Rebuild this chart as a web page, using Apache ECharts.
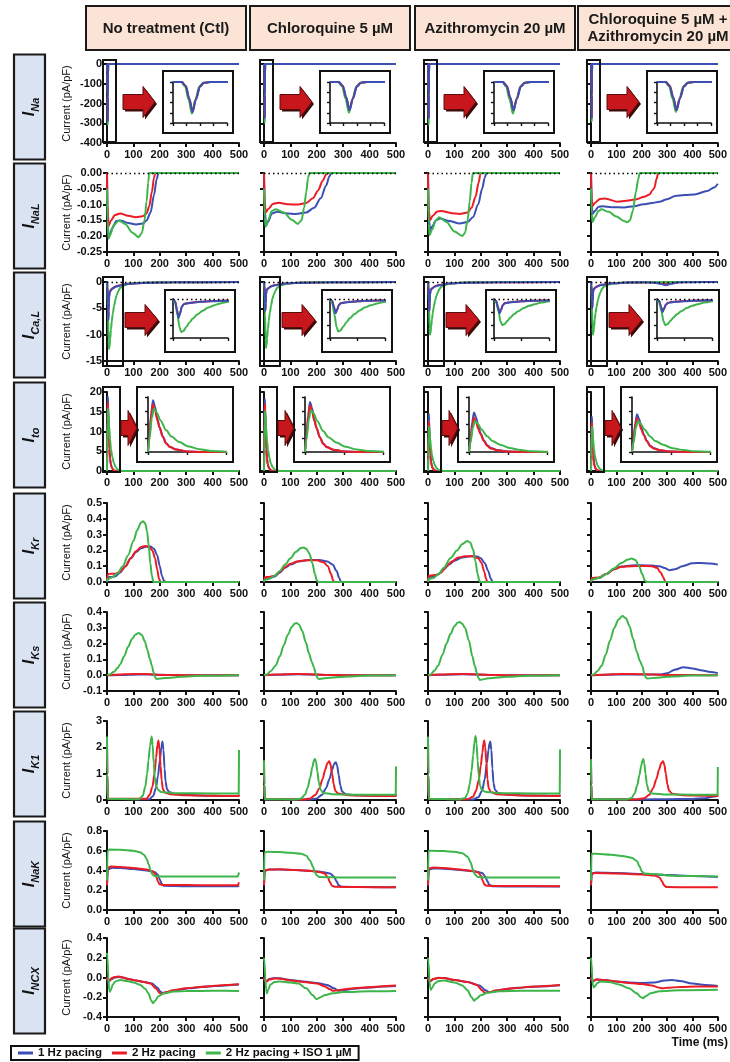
<!DOCTYPE html>
<html>
<head>
<meta charset="utf-8">
<title>Ionic currents under drug treatment</title>
<script src="https://cdn.jsdelivr.net/npm/echarts@6/dist/echarts.min.js"></script>
<style>
  html, body { margin: 0; padding: 0; background: #fff; }
  #chart { width: 730px; height: 1062px; }
</style>
</head>
<body>
<div id="chart"></div>
<script>
// ---------------------------------------------------------------------------
// Conditions (columns), pacing protocols (series) and currents (rows)
// ---------------------------------------------------------------------------
const CONDITIONS = ['No treatment (Ctl)', 'Chloroquine 5 µM', 'Azithromycin 20 µM', 'Chloroquine 5 µM +\nAzithromycin 20 µM'];
const PACING = ['1 Hz pacing', '2 Hz pacing', '2 Hz pacing + ISO 1 µM'];
const CURRENT_SUB = ['Na', 'NaL', 'Ca,L', 'to', 'Kr', 'Ks', 'K1', 'NaK', 'NCX'];
const Y_MIN  = [-400, -0.25, -15, 0, 0, -0.1, 0, 0, -0.4];
const Y_MAX  = [0, 0, 0, 20, 0.5, 0.4, 3, 0.8, 0.4];
const Y_STEP = [100, 0.05, 5, 5, 0.1, 0.1, 1, 0.2, 0.2];
const Y_DEC  = [0, 2, 0, 0, 1, 1, 0, 1, 1];
const X_TICKS = [0, 100, 200, 300, 400, 500];

// Traces: [condition][pacing] -> [time (ms), current (pA/pF)]
const iNa = [
  [
    [[0,0],[1.3,0],[1.9,-40],[2.4,-160],[2.9,-293],[3.4,-170],[4,-45],[4.6,-8],[5.5,0],[500,0]],
    [[0,0],[1.3,0],[1.9,-40],[2.4,-158],[2.9,-288],[3.4,-168],[4,-44],[4.6,-8],[5.5,0],[500,0]],
    [[0,0],[1.2,0],[1.8,-45],[2.3,-170],[2.8,-308],[3.3,-175],[3.9,-45],[4.5,-8],[5.5,0],[500,0]]
  ],
  [
    [[0,0],[1.3,0],[1.9,-38],[2.4,-150],[2.9,-276],[3.4,-160],[4,-42],[4.6,-7],[5.5,0],[500,0]],
    [[0,0],[1.3,0],[1.9,-37],[2.4,-148],[2.9,-272],[3.4,-158],[4,-41],[4.6,-7],[5.5,0],[500,0]],
    [[0,0],[1.2,0],[1.8,-43],[2.3,-165],[2.8,-300],[3.3,-170],[3.9,-44],[4.5,-8],[5.5,0],[500,0]]
  ],
  [
    [[0,0],[1.3,0],[1.9,-38],[2.4,-150],[2.9,-276],[3.4,-160],[4,-42],[4.6,-7],[5.5,0],[500,0]],
    [[0,0],[1.3,0],[1.9,-37],[2.4,-148],[2.9,-272],[3.4,-158],[4,-41],[4.6,-7],[5.5,0],[500,0]],
    [[0,0],[1.2,0],[1.8,-45],[2.3,-170],[2.8,-308],[3.3,-175],[3.9,-45],[4.5,-8],[5.5,0],[500,0]]
  ],
  [
    [[0,0],[1.3,0],[1.9,-38],[2.4,-150],[2.9,-276],[3.4,-160],[4,-42],[4.6,-7],[5.5,0],[500,0]],
    [[0,0],[1.3,0],[1.9,-37],[2.4,-148],[2.9,-272],[3.4,-158],[4,-41],[4.6,-7],[5.5,0],[500,0]],
    [[0,0],[1.2,0],[1.8,-43],[2.3,-162],[2.8,-293],[3.3,-168],[3.9,-43],[4.5,-8],[5.5,0],[500,0]]
  ]
];

const iNaL = [
  [
    [[0,0],[2,-0.12],[5,-0.19],[10,-0.197],[20,-0.175],[35,-0.152],[50,-0.15],[80,-0.158],[110,-0.163],[135,-0.16],[150,-0.15],[165,-0.125],[178,-0.07],[188,-0.02],[195,0],[500,0]],
    [[0,0],[2,-0.1],[6,-0.168],[15,-0.15],[30,-0.133],[50,-0.128],[80,-0.135],[110,-0.14],[135,-0.137],[150,-0.128],[160,-0.105],[170,-0.06],[178,-0.015],[183,0],[500,0]],
    [[0,-0.05],[2,-0.15],[6,-0.208],[12,-0.195],[25,-0.165],[45,-0.15],[70,-0.162],[95,-0.188],[120,-0.203],[132,-0.19],[142,-0.15],[150,-0.09],[156,-0.03],[160,0],[500,0]]
  ],
  [
    [[0,0],[3,-0.12],[8,-0.165],[15,-0.155],[30,-0.128],[50,-0.123],[90,-0.128],[120,-0.13],[160,-0.125],[190,-0.11],[215,-0.08],[235,-0.04],[248,-0.01],[255,0],[500,0]],
    [[0,0],[3,-0.09],[6,-0.125],[15,-0.115],[35,-0.097],[55,-0.094],[90,-0.099],[130,-0.1],[160,-0.095],[185,-0.08],[205,-0.055],[222,-0.025],[235,-0.005],[242,0],[500,0]],
    [[0,-0.05],[3,-0.14],[6,-0.17],[15,-0.15],[30,-0.12],[45,-0.115],[75,-0.125],[105,-0.148],[128,-0.161],[142,-0.15],[152,-0.11],[160,-0.06],[167,-0.015],[172,0],[500,0]]
  ],
  [
    [[0,0],[3,-0.14],[8,-0.181],[15,-0.17],[30,-0.15],[45,-0.144],[80,-0.152],[120,-0.16],[150,-0.155],[170,-0.14],[190,-0.1],[205,-0.05],[215,-0.015],[221,0],[500,0]],
    [[0,0],[3,-0.12],[8,-0.149],[18,-0.135],[35,-0.122],[50,-0.12],[90,-0.127],[120,-0.13],[150,-0.125],[165,-0.11],[180,-0.075],[192,-0.03],[198,-0.005],[201,0],[500,0]],
    [[0,-0.05],[3,-0.16],[6,-0.197],[15,-0.18],[30,-0.15],[42,-0.14],[70,-0.155],[100,-0.185],[130,-0.199],[140,-0.19],[150,-0.15],[158,-0.09],[165,-0.03],[170,0],[500,0]]
  ],
  [
    [[0,0],[3,-0.1],[6,-0.13],[15,-0.12],[30,-0.107],[45,-0.105],[80,-0.108],[130,-0.109],[170,-0.105],[206,-0.099],[240,-0.095],[270,-0.091],[300,-0.083],[332,-0.073],[370,-0.07],[408,-0.068],[458,-0.057],[485,-0.046],[500,-0.034]],
    [[0,0],[3,-0.08],[6,-0.105],[15,-0.095],[35,-0.082],[55,-0.081],[105,-0.091],[140,-0.088],[180,-0.083],[210,-0.075],[231,-0.068],[242,-0.055],[250,-0.047],[258,-0.02],[265,0],[500,0]],
    [[0,-0.05],[3,-0.13],[6,-0.155],[15,-0.14],[30,-0.12],[40,-0.115],[70,-0.123],[100,-0.138],[130,-0.152],[143,-0.156],[153,-0.15],[165,-0.12],[177,-0.06],[186,-0.02],[192,0],[500,0]]
  ]
];

const iCaL = [
  [
    [[0,0],[2,-1],[3.5,-4],[5,-7.3],[6.5,-5.5],[8,-3],[10,-2],[13,-1.7],[18,-1.4],[25,-1.1],[35,-0.85],[50,-0.65],[80,-0.35],[150,-0.15],[250,-0.05],[500,0]],
    [[0,0],[2,-1],[3.5,-3.9],[5,-7],[6.5,-5.3],[8,-2.9],[10,-1.9],[13,-1.6],[18,-1.3],[25,-1.05],[35,-0.8],[50,-0.6],[80,-0.33],[150,-0.14],[250,-0.05],[500,0]],
    [[0,0],[2,-1.5],[4,-6],[6,-11],[7.5,-12.7],[9.5,-12.3],[12,-10.8],[15,-9],[18,-7.5],[22,-6],[27,-4.5],[32,-3.3],[37,-2.5],[43,-1.7],[50,-1.1],[65,-0.6],[90,-0.3],[130,-0.12],[200,-0.04],[500,0]]
  ],
  [
    [[0,0],[2,-0.8],[3.5,-3],[5,-5.5],[6.5,-4.2],[8,-2.4],[10,-1.6],[13,-1.4],[18,-1.15],[25,-0.9],[35,-0.7],[50,-0.55],[80,-0.3],[150,-0.12],[250,-0.04],[500,0]],
    [[0,0],[2,-0.8],[3.5,-2.9],[5,-5.3],[6.5,-4],[8,-2.3],[10,-1.5],[13,-1.3],[18,-1.1],[25,-0.85],[35,-0.65],[50,-0.5],[80,-0.28],[150,-0.11],[250,-0.04],[500,0]],
    [[0,0],[2,-1.5],[4,-6],[6,-10.8],[7.5,-12.5],[9.5,-12.1],[12,-10.6],[15,-8.9],[18,-7.4],[22,-5.9],[27,-4.4],[32,-3.2],[37,-2.4],[43,-1.7],[50,-1.1],[65,-0.6],[90,-0.3],[130,-0.12],[200,-0.04],[500,0]]
  ],
  [
    [[0,0],[2,-0.8],[3.5,-3],[5,-5.5],[6.5,-4.2],[8,-2.4],[10,-1.6],[13,-1.4],[18,-1.15],[25,-0.9],[35,-0.7],[50,-0.55],[80,-0.3],[150,-0.12],[250,-0.04],[500,0]],
    [[0,0],[2,-0.8],[3.5,-2.9],[5,-5.3],[6.5,-4],[8,-2.3],[10,-1.5],[13,-1.3],[18,-1.1],[25,-0.85],[35,-0.65],[50,-0.5],[80,-0.28],[150,-0.11],[250,-0.04],[500,0]],
    [[0,0],[2,-1.2],[4,-4.7],[6,-8.7],[7.5,-10],[9.5,-9.7],[12,-8.5],[15,-7.1],[18,-5.9],[22,-4.7],[27,-3.5],[32,-2.6],[37,-2],[43,-1.35],[50,-0.9],[65,-0.5],[90,-0.25],[130,-0.1],[200,-0.03],[500,0]]
  ],
  [
    [[0,0],[2,-0.75],[3.5,-2.8],[5,-5],[6.5,-3.8],[8,-2.2],[10,-1.5],[13,-1.3],[18,-1.05],[25,-0.85],[35,-0.65],[50,-0.5],[80,-0.28],[150,-0.1],[200,-0.06],[250,-0.12],[275,-0.35],[295,-0.6],[315,-0.35],[340,-0.1],[400,-0.03],[500,0]],
    [[0,0],[2,-0.75],[3.5,-2.7],[5,-4.8],[6.5,-3.6],[8,-2.1],[10,-1.4],[13,-1.2],[18,-1],[25,-0.8],[35,-0.6],[50,-0.48],[80,-0.26],[150,-0.1],[230,-0.05],[260,-0.15],[285,-0.3],[305,-0.15],[330,-0.04],[400,0],[500,0]],
    [[0,0],[2,-1.2],[4,-4.7],[6,-8.7],[7.5,-10],[9.5,-9.7],[12,-8.5],[15,-7.1],[18,-5.9],[22,-4.7],[27,-3.5],[32,-2.6],[37,-2],[43,-1.35],[50,-0.9],[65,-0.5],[90,-0.25],[130,-0.1],[200,-0.03],[500,0]]
  ]
];

const iTo = [
  [
    [[0,0],[1,6],[2,14],[3.2,18.8],[4.5,16.5],[6,12],[7.5,8.8],[9.5,5.6],[11.7,3.2],[14,1.9],[18,0.9],[25,0.2],[35,0],[500,0]],
    [[0,0],[1,5.5],[2,13],[3.2,17.4],[4.5,15.2],[6,11.5],[7.4,9],[9.5,5.5],[11.7,3],[14,1.8],[18,0.9],[25,0.2],[35,0],[500,0]],
    [[0,0],[1,5],[2.5,12.5],[3.8,15.8],[5.5,14.5],[8,11.5],[11.7,7.9],[15,5.6],[20,3.6],[26,2],[33,1],[40,0.4],[50,0.1],[60,0],[500,0]]
  ],
  [
    [[0,0],[1,5.8],[2,13.5],[3.2,18.2],[4.5,16],[6,11.6],[7.5,8.5],[9.5,5.4],[11.7,3.1],[14,1.8],[18,0.85],[25,0.2],[35,0],[500,0]],
    [[0,0],[1,5.4],[2,12.7],[3.2,17],[4.5,14.9],[6,11.2],[7.4,8.8],[9.5,5.4],[11.7,2.9],[14,1.75],[18,0.85],[25,0.2],[35,0],[500,0]],
    [[0,0],[1,4.8],[2.5,12],[3.8,15.2],[5.5,14],[8,11.1],[11.7,7.6],[15,5.4],[20,3.5],[26,1.9],[33,0.95],[40,0.4],[50,0.1],[60,0],[500,0]]
  ],
  [
    [[0,0],[1,4.6],[2,10.7],[3.2,14.4],[4.5,12.6],[6,9.2],[7.5,6.7],[9.5,4.3],[11.7,2.5],[14,1.5],[18,0.7],[25,0.15],[35,0],[500,0]],
    [[0,0],[1,4],[2,9.3],[3.2,12.5],[4.5,10.9],[6,8.3],[7.4,6.5],[9.5,4],[11.7,2.2],[14,1.3],[18,0.65],[25,0.15],[35,0],[500,0]],
    [[0,0],[1,3.6],[2.5,8.9],[3.8,11.3],[5.5,10.4],[8,8.2],[11.7,5.7],[15,4],[20,2.6],[26,1.45],[33,0.7],[40,0.3],[50,0.07],[60,0],[500,0]]
  ],
  [
    [[0,0],[1,4.4],[2,10.2],[3.2,13.75],[4.5,12.1],[6,8.8],[7.5,6.4],[9.5,4.1],[11.7,2.3],[14,1.4],[18,0.65],[25,0.15],[35,0],[500,0]],
    [[0,0],[1,3.9],[2,9.1],[3.2,12.25],[4.5,10.7],[6,8.1],[7.4,6.3],[9.5,3.9],[11.7,2.1],[14,1.25],[18,0.6],[25,0.15],[35,0],[500,0]],
    [[0,0],[1,3.6],[2.5,8.9],[3.8,11.25],[5.5,10.3],[8,8.2],[11.7,5.6],[15,4],[20,2.6],[26,1.4],[33,0.7],[40,0.3],[50,0.07],[60,0],[500,0]]
  ]
];

const iKr = [
  [
    [[0,0],[3,0.03],[15,0.032],[30,0.035],[50,0.06],[70,0.1],[90,0.15],[110,0.19],[130,0.215],[150,0.225],[165,0.225],[178,0.21],[190,0.17],[200,0.1],[208,0.04],[215,0.01],[222,0],[500,0]],
    [[0,0],[3,0.05],[15,0.053],[30,0.052],[50,0.065],[70,0.1],[90,0.15],[110,0.195],[130,0.222],[145,0.228],[160,0.222],[172,0.2],[182,0.15],[190,0.08],[197,0.02],[203,0],[500,0]],
    [[0,0],[3,0.02],[20,0.03],[40,0.055],[60,0.1],[80,0.17],[100,0.26],[115,0.33],[128,0.375],[137,0.385],[145,0.37],[152,0.32],[158,0.23],[164,0.12],[170,0.04],[176,0],[500,0]]
  ],
  [
    [[0,0],[3,0.02],[20,0.022],[40,0.035],[60,0.06],[80,0.09],[100,0.11],[130,0.13],[170,0.14],[210,0.14],[240,0.13],[260,0.11],[275,0.07],[285,0.025],[292,0],[500,0]],
    [[0,0],[3,0.03],[20,0.032],[40,0.04],[60,0.065],[80,0.095],[100,0.115],[130,0.132],[160,0.138],[200,0.137],[225,0.125],[242,0.1],[254,0.05],[262,0.01],[267,0],[500,0]],
    [[0,0],[3,0.015],[20,0.02],[40,0.04],[60,0.07],[80,0.11],[100,0.15],[120,0.19],[140,0.215],[150,0.219],[160,0.21],[172,0.18],[183,0.12],[193,0.05],[200,0.01],[205,0],[500,0]]
  ],
  [
    [[0,0],[3,0.03],[20,0.035],[40,0.05],[60,0.08],[80,0.11],[100,0.135],[130,0.155],[160,0.163],[185,0.162],[200,0.15],[215,0.12],[228,0.07],[238,0.02],[245,0],[500,0]],
    [[0,0],[3,0.04],[20,0.043],[35,0.045],[50,0.06],[70,0.1],[90,0.13],[115,0.155],[140,0.163],[170,0.163],[190,0.15],[203,0.12],[213,0.065],[220,0.02],[225,0],[500,0]],
    [[0,0],[3,0.02],[20,0.025],[40,0.05],[60,0.09],[85,0.15],[110,0.2],[130,0.24],[148,0.26],[160,0.25],[170,0.21],[180,0.13],[188,0.05],[194,0.01],[198,0],[500,0]]
  ],
  [
    [[0,0],[3,0.02],[30,0.025],[60,0.05],[90,0.08],[120,0.098],[160,0.105],[200,0.106],[240,0.104],[270,0.1],[290,0.088],[310,0.075],[330,0.08],[360,0.1],[400,0.118],[430,0.121],[470,0.117],[500,0.11]],
    [[0,0],[3,0.025],[30,0.028],[60,0.05],[90,0.08],[120,0.097],[160,0.1],[200,0.101],[240,0.1],[260,0.09],[275,0.06],[285,0.03],[292,0.005],[296,0],[500,0]],
    [[0,0],[3,0.015],[30,0.025],[60,0.05],[90,0.085],[120,0.12],[145,0.142],[160,0.148],[175,0.14],[190,0.1],[202,0.05],[212,0.01],[220,0],[500,0]]
  ]
];

const iKs = [
  [
    [[0,0],[50,0.002],[120,0.005],[200,0.003],[300,0],[500,0]],
    [[0,0],[30,0.003],[100,0.008],[150,0.007],[200,0.002],[300,0],[500,0]],
    [[0,0],[10,0.005],[25,0.02],[40,0.045],[50,0.07],[65,0.12],[80,0.18],[95,0.23],[108,0.258],[120,0.267],[132,0.255],[143,0.215],[153,0.16],[162,0.105],[170,0.06],[176,0.02],[181,-0.01],[187,-0.024],[220,-0.018],[280,-0.01],[360,-0.004],[500,0]]
  ],
  [
    [[0,0],[50,0.003],[130,0.006],[210,0.003],[300,0],[500,0]],
    [[0,0],[40,0.004],[110,0.008],[170,0.006],[230,0.002],[300,0],[500,0]],
    [[0,0],[10,0.005],[25,0.025],[44,0.06],[60,0.12],[75,0.19],[90,0.255],[105,0.305],[115,0.325],[123,0.33],[133,0.32],[145,0.28],[158,0.21],[170,0.14],[181,0.085],[189,0.05],[196,0.01],[202,-0.018],[208,-0.024],[250,-0.016],[320,-0.008],[400,-0.002],[500,0]]
  ],
  [
    [[0,0],[50,0.003],[130,0.006],[210,0.003],[300,0],[500,0]],
    [[0,0],[40,0.004],[110,0.008],[170,0.006],[230,0.002],[300,0],[500,0]],
    [[0,0],[10,0.005],[25,0.03],[38,0.06],[55,0.13],[70,0.2],[85,0.26],[100,0.31],[112,0.332],[120,0.336],[130,0.325],[140,0.3],[155,0.22],[168,0.12],[177,0.06],[185,0.015],[191,-0.02],[197,-0.03],[230,-0.02],[300,-0.01],[380,-0.003],[500,0]]
  ],
  [
    [[0,0],[100,0.005],[200,0.004],[270,0.004],[300,0.012],[330,0.035],[365,0.05],[400,0.043],[440,0.03],[470,0.021],[500,0.013]],
    [[0,0],[50,0.003],[120,0.008],[200,0.006],[300,0.002],[500,0]],
    [[0,0],[10,0.005],[25,0.025],[42,0.06],[58,0.13],[75,0.22],[92,0.3],[108,0.352],[124,0.374],[138,0.36],[152,0.31],[166,0.23],[180,0.15],[193,0.09],[203,0.055],[210,0.01],[216,-0.015],[222,-0.021],[260,-0.016],[320,-0.008],[400,-0.002],[500,0]]
  ]
];

const iK1 = [
  [
    [[0,2.4],[1,1],[3,0.05],[160,0.03],[175,0.15],[185,0.45],[193,0.9],[200,1.5],[206,2],[210,2.22],[214,1.9],[218,1.2],[222,0.7],[227,0.42],[235,0.3],[260,0.22],[350,0.17],[450,0.15],[499,0.15],[500,0.2]],
    [[0,2.4],[1,1],[3,0.05],[150,0.05],[162,0.2],[172,0.5],[180,1],[186,1.6],[191,2.1],[195,2.26],[199,1.9],[203,1.3],[207,0.75],[212,0.4],[220,0.28],[240,0.22],[300,0.18],[400,0.16],[499,0.15],[500,0.2]],
    [[0,2.4],[1,1],[3,0.05],[120,0.03],[135,0.15],[145,0.5],[152,1],[157,1.5],[163,2.05],[169,2.41],[173,2.1],[177,1.4],[181,0.85],[186,0.55],[192,0.4],[205,0.3],[260,0.26],[400,0.25],[499,0.25],[500,1.9]]
  ],
  [
    [[0,1.5],[1,0.6],[3,0.03],[170,0.02],[200,0.06],[220,0.2],[235,0.45],[248,0.8],[258,1.15],[266,1.38],[272,1.43],[277,1.3],[283,0.95],[289,0.55],[296,0.32],[310,0.22],[350,0.18],[450,0.16],[499,0.15],[500,0.2]],
    [[0,1.5],[1,0.6],[3,0.03],[150,0.02],[175,0.06],[195,0.2],[210,0.45],[222,0.8],[232,1.15],[240,1.4],[247,1.47],[252,1.35],[258,1],[264,0.6],[270,0.35],[280,0.25],[320,0.18],[400,0.16],[499,0.15],[500,0.2]],
    [[0,1.5],[1,0.6],[3,0.03],[120,0.02],[140,0.06],[155,0.2],[165,0.45],[175,0.85],[183,1.25],[190,1.52],[193,1.56],[197,1.45],[202,1.1],[208,0.65],[215,0.38],[225,0.27],[260,0.22],[350,0.2],[450,0.2],[499,0.2],[500,1.27]]
  ],
  [
    [[0,2.4],[1,1],[3,0.05],[170,0.02],[190,0.1],[205,0.35],[215,0.8],[223,1.4],[229,1.9],[233,2.15],[236,2.22],[240,1.9],[244,1.2],[248,0.65],[254,0.38],[265,0.27],[300,0.2],[400,0.17],[499,0.16],[500,0.2]],
    [[0,2.4],[1,1],[3,0.05],[150,0.03],[170,0.12],[182,0.35],[192,0.75],[200,1.3],[206,1.8],[210,2.15],[213,2.26],[217,2],[221,1.4],[225,0.8],[230,0.45],[238,0.3],[260,0.22],[350,0.17],[450,0.16],[499,0.15],[500,0.2]],
    [[0,2.4],[1,1],[3,0.05],[120,0.02],[140,0.08],[150,0.25],[158,0.6],[165,1.1],[171,1.7],[176,2.2],[180,2.43],[184,2.15],[188,1.5],[192,0.95],[197,0.55],[204,0.38],[220,0.3],[280,0.26],[400,0.25],[499,0.25],[500,1.92]]
  ],
  [
    [[0,1.55],[1,0.6],[3,0.03],[200,0.02],[300,0.03],[400,0.04],[450,0.07],[480,0.12],[500,0.16]],
    [[0,1.55],[1,0.6],[3,0.03],[180,0.02],[210,0.07],[230,0.2],[245,0.45],[258,0.8],[268,1.15],[277,1.4],[284,1.47],[289,1.35],[295,1],[301,0.6],[308,0.35],[320,0.24],[360,0.18],[450,0.16],[499,0.15],[500,0.2]],
    [[0,1.55],[1,0.6],[3,0.03],[140,0.02],[160,0.08],[172,0.25],[182,0.55],[191,0.95],[198,1.3],[203,1.5],[206,1.56],[210,1.4],[215,1],[220,0.6],[227,0.35],[240,0.25],[300,0.21],[400,0.2],[499,0.2],[500,1.25]]
  ]
];

const iNaK = [
  [
    [[0,0.25],[3,0.41],[20,0.427],[50,0.425],[100,0.415],[150,0.4],[180,0.385],[192,0.36],[200,0.31],[207,0.265],[215,0.245],[300,0.24],[400,0.24],[495,0.24],[500,0.25]],
    [[0,0.25],[3,0.43],[15,0.44],[50,0.435],[100,0.425],[150,0.41],[170,0.395],[180,0.375],[188,0.33],[194,0.28],[200,0.26],[215,0.253],[300,0.252],[400,0.25],[495,0.25],[500,0.28]],
    [[0,0.3],[2,0.6],[10,0.612],[50,0.61],[100,0.6],[125,0.585],[140,0.56],[150,0.52],[158,0.46],[165,0.4],[172,0.36],[180,0.345],[200,0.34],[300,0.34],[400,0.34],[495,0.34],[500,0.38]]
  ],
  [
    [[0,0.25],[3,0.4],[20,0.41],[60,0.41],[120,0.405],[180,0.395],[220,0.385],[250,0.37],[265,0.34],[275,0.29],[283,0.25],[295,0.235],[400,0.232],[500,0.23]],
    [[0,0.25],[3,0.4],[20,0.41],[60,0.412],[120,0.405],[180,0.395],[210,0.385],[230,0.37],[242,0.33],[250,0.28],[258,0.245],[270,0.235],[350,0.232],[500,0.23]],
    [[0,0.3],[2,0.585],[15,0.59],[60,0.587],[100,0.58],[140,0.57],[160,0.55],[175,0.5],[185,0.44],[193,0.38],[200,0.35],[210,0.335],[300,0.33],[400,0.33],[500,0.33]]
  ],
  [
    [[0,0.25],[3,0.41],[20,0.42],[60,0.418],[120,0.405],[180,0.39],[205,0.375],[217,0.34],[225,0.29],[232,0.255],[245,0.24],[350,0.238],[500,0.238]],
    [[0,0.25],[3,0.42],[20,0.43],[60,0.425],[120,0.41],[170,0.395],[190,0.38],[200,0.35],[207,0.3],[213,0.26],[222,0.245],[300,0.243],[500,0.24]],
    [[0,0.3],[2,0.6],[15,0.6],[60,0.597],[100,0.59],[130,0.575],[150,0.54],[162,0.48],[170,0.41],[178,0.36],[188,0.335],[220,0.33],[300,0.33],[400,0.33],[500,0.33]]
  ],
  [
    [[0,0.25],[3,0.37],[20,0.38],[100,0.375],[200,0.365],[300,0.355],[400,0.345],[500,0.335]],
    [[0,0.25],[3,0.37],[20,0.375],[100,0.37],[200,0.36],[250,0.35],[270,0.33],[280,0.29],[288,0.25],[298,0.232],[400,0.23],[500,0.23]],
    [[0,0.3],[2,0.57],[20,0.57],[80,0.56],[130,0.545],[160,0.53],[180,0.5],[192,0.44],[200,0.39],[210,0.37],[240,0.365],[280,0.36],[300,0.35],[350,0.345],[450,0.343],[500,0.34]]
  ]
];

const iNCX = [
  [
    [[0,0],[3,-0.03],[8,-0.04],[15,-0.02],[30,0],[45,0.005],[60,0],[80,-0.015],[110,-0.03],[140,-0.045],[170,-0.06],[190,-0.1],[203,-0.145],[212,-0.16],[225,-0.15],[260,-0.13],[310,-0.11],[360,-0.097],[410,-0.087],[460,-0.078],[500,-0.072]],
    [[0,0],[3,-0.03],[8,-0.035],[15,-0.01],[30,0.005],[45,0.01],[60,0],[80,-0.015],[110,-0.03],[140,-0.045],[165,-0.06],[185,-0.11],[200,-0.16],[207,-0.168],[220,-0.15],[250,-0.13],[300,-0.11],[350,-0.095],[400,-0.085],[450,-0.076],[500,-0.068]],
    [[0,0.25],[2,0.2],[5,0],[8,-0.12],[11,-0.145],[15,-0.12],[22,-0.07],[32,-0.04],[50,-0.025],[75,-0.035],[100,-0.05],[126,-0.075],[145,-0.115],[157,-0.16],[167,-0.23],[174,-0.26],[182,-0.235],[195,-0.19],[215,-0.16],[252,-0.142],[300,-0.137],[400,-0.135],[500,-0.136]]
  ],
  [
    [[0,0],[4,-0.03],[10,-0.035],[20,-0.015],[40,-0.005],[60,-0.008],[100,-0.025],[150,-0.04],[200,-0.055],[240,-0.075],[265,-0.11],[282,-0.135],[300,-0.13],[340,-0.115],[400,-0.1],[450,-0.09],[500,-0.085]],
    [[0,0],[4,-0.035],[10,-0.04],[20,-0.02],[40,-0.01],[60,-0.012],[100,-0.03],[150,-0.045],[200,-0.06],[230,-0.09],[250,-0.12],[262,-0.135],[280,-0.13],[320,-0.115],[380,-0.1],[440,-0.09],[500,-0.082]],
    [[0,0.2],[2,0.15],[5,0],[8,-0.12],[11,-0.16],[16,-0.12],[25,-0.07],[40,-0.045],[60,-0.04],[100,-0.05],[130,-0.06],[160,-0.11],[185,-0.18],[199,-0.22],[210,-0.205],[230,-0.18],[260,-0.16],[300,-0.148],[400,-0.14],[500,-0.137]]
  ],
  [
    [[0,0],[4,-0.03],[10,-0.035],[20,-0.015],[40,-0.003],[60,-0.005],[100,-0.025],[150,-0.045],[195,-0.08],[218,-0.13],[232,-0.15],[245,-0.145],[280,-0.125],[340,-0.105],[420,-0.09],[500,-0.078]],
    [[0,0],[4,-0.03],[10,-0.035],[20,-0.015],[40,-0.005],[60,-0.005],[100,-0.025],[150,-0.045],[185,-0.075],[205,-0.13],[215,-0.155],[228,-0.15],[260,-0.13],[320,-0.11],[400,-0.09],[500,-0.075]],
    [[0,0.2],[2,0.15],[5,0],[8,-0.1],[11,-0.125],[16,-0.1],[25,-0.06],[40,-0.035],[60,-0.03],[100,-0.05],[130,-0.08],[150,-0.13],[165,-0.2],[175,-0.235],[183,-0.215],[200,-0.18],[225,-0.155],[270,-0.14],[350,-0.135],[500,-0.135]]
  ],
  [
    [[0,0],[4,-0.03],[10,-0.035],[20,-0.02],[50,-0.025],[100,-0.04],[150,-0.05],[200,-0.055],[250,-0.05],[290,-0.03],[320,-0.025],[350,-0.035],[400,-0.06],[450,-0.075],[500,-0.085]],
    [[0,0],[4,-0.03],[10,-0.035],[20,-0.02],[50,-0.025],[100,-0.04],[150,-0.055],[200,-0.065],[240,-0.08],[265,-0.1],[280,-0.11],[300,-0.105],[350,-0.095],[420,-0.09],[500,-0.09]],
    [[0,0.2],[2,0.15],[5,0],[8,-0.08],[11,-0.1],[16,-0.085],[25,-0.055],[40,-0.04],[70,-0.045],[110,-0.07],[150,-0.11],[180,-0.16],[198,-0.2],[205,-0.21],[215,-0.19],[235,-0.16],[270,-0.14],[350,-0.13],[500,-0.125]]
  ]
];

const CURRENTS = [iNa, iNaL, iCaL, iTo, iKr, iKs, iK1, iNaK, iNCX];

// ---------------------------------------------------------------------------
// Layout and style
// ---------------------------------------------------------------------------
const FONT = "'Liberation Sans', Arial, Helvetica, sans-serif";
const NARROW = "'Liberation Sans Narrow', 'Liberation Sans', Arial, sans-serif";
const COLORS = ['#3b4eb4', '#ec1c24', '#3db54a'];
const COL_X = [107, 264, 428, 591];
const ROW_Y = [64, 173, 282, 392, 503, 612, 721, 831, 938];
const PW = 132, PH = 79;
const HEAD_X = [86, 250, 415, 578];
const INK = '#111';
// drawing order of the three pacing traces, per current (last one on top)
const DRAW_ORDER = [[2, 1, 0], [0, 1, 2], [1, 2, 0], [0, 1, 2], [0, 1, 2], [0, 1, 2], [0, 1, 2], [0, 1, 2], [0, 1, 2]];

const grids = [], xAxes = [], yAxes = [], series = [], graphics = [];

function axisBase(show) {
  return {
    axisLine: { show: true, onZero: false, lineStyle: { color: INK, width: 2 } },
    axisTick: { show: true, length: 4, lineStyle: { color: INK, width: 2 } },
    splitLine: { show: false },
    axisLabel: { show: show, color: INK, fontFamily: FONT, fontSize: 11, fontWeight: 'bold' }
  };
}

function addPanel(rect, xr, yr, opts) {
  const gi = grids.length;
  grids.push({ left: rect[0], top: rect[1], width: rect[2], height: rect[3], containLabel: false });
  const xa = axisBase(opts.xLabels);
  Object.assign(xa, { type: 'value', gridIndex: gi, min: xr[0], max: xr[1], interval: xr[2] });
  xa.axisLabel.margin = 6;
  const ya = axisBase(opts.yLabels);
  Object.assign(ya, { type: 'value', gridIndex: gi, min: yr[0], max: yr[1], interval: yr[2] });
  ya.axisLabel.margin = 5;
  ya.axisLabel.formatter = v => (Math.abs(v) < 1e-9 ? 0 : v).toFixed(yr[3]);
  if (opts.small) {
    xa.axisLine.lineStyle.width = ya.axisLine.lineStyle.width = 1.6;
    xa.axisTick.length = ya.axisTick.length = 3;
    xa.axisTick.lineStyle.width = ya.axisTick.lineStyle.width = 1.4;
  }
  if (opts.yName) {
    Object.assign(ya, {
      name: opts.yName, nameLocation: 'middle', nameGap: 35,
      nameTextStyle: { color: INK, fontFamily: FONT, fontSize: 11 }
    });
  }
  xAxes.push(xa);
  yAxes.push(ya);
  return gi;
}

function addTraces(gi, traces, order, zeroLine) {
  if (zeroLine) {
    series.push({
      type: 'line', xAxisIndex: gi, yAxisIndex: gi, data: [], z: 1, silent: true,
      markLine: {
        silent: true, symbol: 'none', label: { show: false }, animation: false,
        lineStyle: { type: [1.5, 3], color: '#000', width: 1.3 },
        data: [{ yAxis: 0 }]
      }
    });
  }
  order.forEach(s => {
    series.push({
      name: PACING[s], type: 'line', xAxisIndex: gi, yAxisIndex: gi,
      data: traces[s], showSymbol: false, symbol: 'none',
      smooth: 0.3, smoothMonotone: 'x', clip: true, z: 3,
      lineStyle: { color: COLORS[s], width: 2 }, itemStyle: { color: COLORS[s] }
    });
  });
}

function arrow(xs, xb, xe, cy, bh, hh) {
  const pts = [[xs, cy - bh], [xb, cy - bh], [xb, cy - hh], [xe, cy], [xb, cy + hh], [xb, cy + bh], [xs, cy + bh]];
  graphics.push({ type: 'polygon', shape: { points: pts.map(p => [p[0] + 2, p[1] + 2]) }, style: { fill: '#3d0a0a' }, z: 5 });
  graphics.push({ type: 'polygon', shape: { points: pts }, style: { fill: '#c8161d', stroke: '#5a0d0d', lineWidth: 1 }, z: 6 });
}

function box(x, y, w, h) {
  graphics.push({ type: 'rect', shape: { x: x, y: y, width: w, height: h }, style: { fill: 'none', stroke: INK, lineWidth: 2 }, z: 5 });
}

// Main panels
CURRENTS.forEach((cur, r) => {
  for (let c = 0; c < 4; c++) {
    const gi = addPanel([COL_X[c], ROW_Y[r], PW, PH],
      [X_TICKS[0], X_TICKS[X_TICKS.length - 1], X_TICKS[1] - X_TICKS[0]],
      [Y_MIN[r], Y_MAX[r], Y_STEP[r], Y_DEC[r]],
      { xLabels: true, yLabels: c === 0, yName: c === 0 ? 'Current (pA/pF)' : '' });
    addTraces(gi, cur[c], DRAW_ORDER[r], r === 1 || r === 2);
  }
});

// Zoomed insets of the first milliseconds (INa, ICa,L, Ito)
for (let c = 0; c < 4; c++) {
  const x0 = COL_X[c];
  // INa
  box(x0 - 4, 60, 13, 82);
  arrow(x0 + 16, x0 + 36, x0 + 48, 102, 7.5, 15.5);
  box(x0 + 56, 71, 70, 62);
  let gi = addPanel([x0 + 66, 82, 54, 41], [0, 8, 2], [-400, 0, 100, 0], { small: true });
  addTraces(gi, iNa[c], DRAW_ORDER[0], false);
  // ICa,L
  box(x0 - 4, 277, 20, 89);
  arrow(x0 + 18, x0 + 38, x0 + 51, 320, 7.5, 15.5);
  box(x0 + 58, 290, 70, 62);
  gi = addPanel([x0 + 66, 299, 55, 39], [0, 50, 25], [-15, 0, 5, 0], { small: true });
  addTraces(gi, iCaL[c], DRAW_ORDER[2], true);
  // Ito
  box(x0 - 4, 387, 17, 85);
  arrow(x0 + 14, x0 + 21, x0 + 30, 428, 7.5, 17.5);
  box(x0 + 30, 387, 96, 75);
  gi = addPanel([x0 + 41, 397, 78, 55], [0, 50, 25], [0, 20, 5, 0], { small: true });
  addTraces(gi, iTo[c], DRAW_ORDER[3], false);
}

// Column headers
CONDITIONS.forEach((name, c) => {
  graphics.push({ type: 'rect', shape: { x: HEAD_X[c], y: 6, width: 160, height: 44 },
    style: { fill: '#fbe4d5', stroke: '#1a1a1a', lineWidth: 2 }, z: 4 });
  graphics.push({ type: 'text', x: HEAD_X[c] + 80, y: 28.5, z: 6,
    style: { text: name, fill: '#1a1a1a', align: 'center', verticalAlign: 'middle',
      font: 'bold 15px ' + FONT, lineHeight: 17 } });
});

// Row labels
CURRENT_SUB.forEach((sub, r) => {
  const top = ROW_Y[r] - 9.5;
  graphics.push({ type: 'rect', shape: { x: 14, y: top, width: 31, height: 105 },
    style: { fill: '#dae3f2', stroke: '#1a1a1a', lineWidth: 2.2 }, z: 4 });
  graphics.push({ type: 'text', x: 30, y: top + 52.5, rotation: Math.PI / 2, z: 6,
    style: {
      text: '{i|I}{s|' + sub + '}', align: 'center', verticalAlign: 'middle',
      rich: {
        i: { fontFamily: FONT, fontSize: 16, fontWeight: 'bold', fontStyle: 'italic', fill: '#111', lineHeight: 22, verticalAlign: 'middle' },
        s: { fontFamily: FONT, fontSize: 11, fontWeight: 'bold', fontStyle: 'italic', fill: '#111', lineHeight: 22, verticalAlign: 'bottom' }
      }
    } });
});

// Time axis caption
graphics.push({ type: 'text', x: 728, y: 1043, z: 6,
  style: { text: 'Time (ms)', fill: INK, align: 'right', verticalAlign: 'middle', font: 'bold 12px ' + NARROW } });

const chart = echarts.init(document.getElementById('chart'), null, { renderer: 'canvas' });
chart.setOption({
  animation: false,
  backgroundColor: '#fff',
  grid: grids,
  xAxis: xAxes,
  yAxis: yAxes,
  series: series,
  legend: {
    data: PACING.map(n => ({ name: n, icon: 'rect' })),
    left: 11, top: 1046, orient: 'horizontal',
    itemWidth: 15, itemHeight: 3, itemGap: 10,
    padding: [1, 7], borderColor: INK, borderWidth: 2,
    selectedMode: false,
    textStyle: { color: INK, fontFamily: NARROW, fontSize: 11.5, fontWeight: 'bold' }
  },
  graphic: { elements: graphics }
});
</script>
</body>
</html>
